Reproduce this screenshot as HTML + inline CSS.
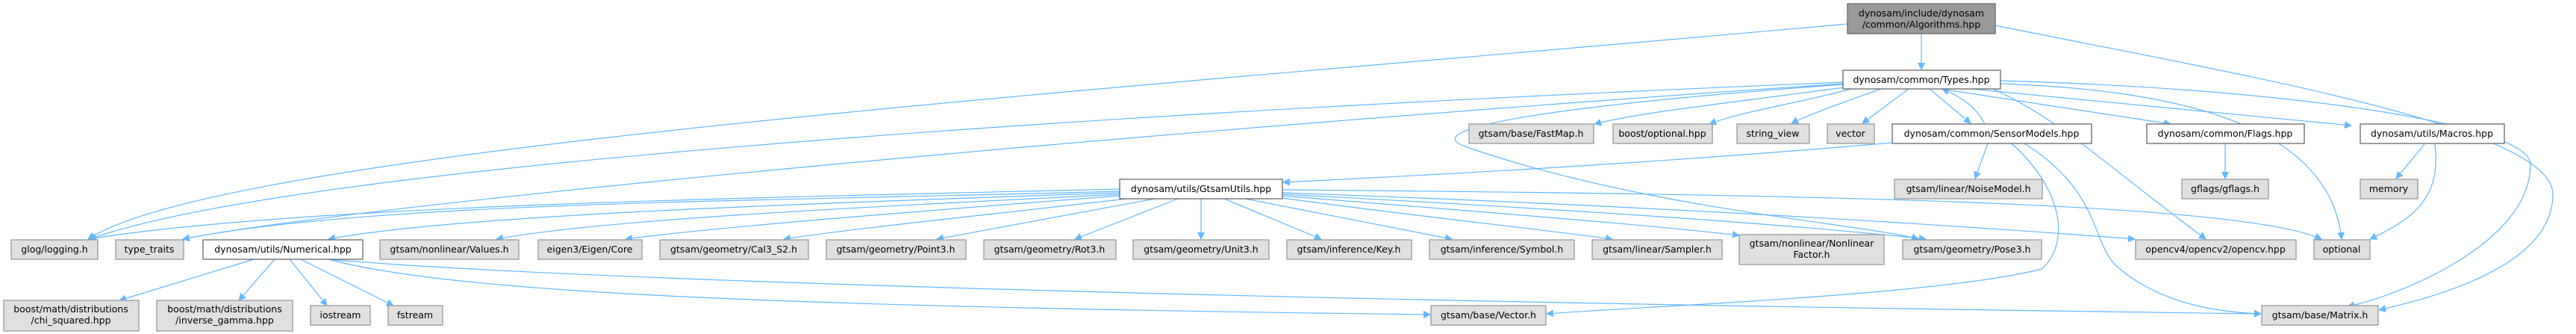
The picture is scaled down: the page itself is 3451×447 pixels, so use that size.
<!DOCTYPE html>
<html><head><meta charset="utf-8"><style>
html,body{margin:0;padding:0;background:#fff;}
svg{display:block}
text{font-family:"DejaVu Sans","Liberation Sans",sans-serif;font-size:12.5px;fill:#000;text-anchor:middle;}
.g{fill:#e0e0e0;stroke:#999;stroke-width:1.3}
.w{fill:#fff;stroke:#666;stroke-width:1.3}
.d{fill:#999;stroke:#666;stroke-width:1.3}
path.e{fill:none;stroke:#63b8ff;stroke-width:1.2;marker-end:url(#a)}
</style></head><body>
<svg width="3451" height="447" viewBox="0 0 3451 447" xmlns="http://www.w3.org/2000/svg">
<defs><marker id="a" viewBox="0 0 10 10" refX="9" refY="5" markerWidth="10" markerHeight="10" markerUnits="userSpaceOnUse" orient="auto"><path d="M0,0 L10,5 L0,10 z" fill="#63b8ff"/></marker></defs>
<g>
<path class="e" d="M2574,45 L2574,93"/>
<path class="e" d="M2475,32 C1500,120 300,200 118,320"/>
<path class="e" d="M2673,34 C3000,100 3420,170 3420,260 C3420,360 3250,400 3187,415"/>
<path class="e" d="M2469,110 C1500,150 400,220 120,320"/>
<path class="e" d="M2469,112 C1600,170 500,270 245,320"/>
<path class="e" d="M2470,117 C2300,140 2200,150 2136,166"/>
<path class="e" d="M2480,119 C2400,140 2330,150 2290,166"/>
<path class="e" d="M2520,119 C2460,140 2420,155 2400,165"/>
<path class="e" d="M2557,119 L2495,165"/>
<path class="e" d="M2585,119 L2640,165"/>
<path class="e" d="M2600,119 L2908,166"/>
<path class="e" d="M2640,119 L3150,168"/>
<path class="e" d="M2670,119 C2760,160 2820,220 2955,320"/>
<path class="e" d="M2680,112 C2900,120 3120,160 3137,320"/>
<path class="e" d="M2680,108 C3100,120 3390,170 3390,220 C3390,330 3200,400 3145,410"/>
<path class="e" d="M2469,113 C2100,140 1900,170 1960,195 C2200,280 2500,300 2570,320"/>
<path class="e" d="M2659,166 C2650,150 2640,135 2602,119"/>
<path class="e" d="M2535,191 C2200,220 1900,235 1719,244"/>
<path class="e" d="M2663,192 L2646,239"/>
<path class="e" d="M2695,192 C2770,260 2770,330 2735,360 C2600,395 2200,410 2072,420"/>
<path class="e" d="M2712,192 C2820,260 2800,330 2840,360 C2900,410 2980,418 3029,420"/>
<path class="e" d="M2981,192 L2981,239"/>
<path class="e" d="M3248,193 L3210,239"/>
<path class="e" d="M3262,193 C3270,260 3240,290 3175,320"/>
<path class="e" d="M1500,253 C1000,265 400,275 118,320"/>
<path class="e" d="M1500,256 C1000,270 500,270 245,320"/>
<path class="e" d="M1500,258 C1000,275 600,290 440,320"/>
<path class="e" d="M1500,260 C1100,280 800,295 665,320"/>
<path class="e" d="M1500,262 C1200,285 950,305 838,320"/>
<path class="e" d="M1510,266 C1300,290 1150,305 1050,320"/>
<path class="e" d="M1547,266 L1255,320"/>
<path class="e" d="M1578,266 L1440,320"/>
<path class="e" d="M1609,266 L1609,320"/>
<path class="e" d="M1640,266 L1770,320"/>
<path class="e" d="M1668,266 L1945,320"/>
<path class="e" d="M1718,265 C1900,290 2050,305 2160,320"/>
<path class="e" d="M1718,262 C2000,285 2200,300 2330,315"/>
<path class="e" d="M1718,260 C2100,280 2400,300 2580,320"/>
<path class="e" d="M1718,258 C2200,275 2600,300 2860,320"/>
<path class="e" d="M1718,254 C2400,260 3000,270 3110,320"/>
<path class="e" d="M340,347 L160,402"/>
<path class="e" d="M368,347 L320,402"/>
<path class="e" d="M388,347 L438,409"/>
<path class="e" d="M403,347 L527,409"/>
<path class="e" d="M440,347 C600,390 1000,410 1916,421"/>
<path class="e" d="M440,347 C700,370 1500,400 3029,420"/>
</g>
<rect class="d" x="2475" y="5" width="198" height="40"/><text x="2574" y="22">dynosam/include/dynosam</text><text x="2574" y="37">/common/Algorithms.hpp</text>
<rect class="w" x="2469" y="94" width="211" height="25"/><text x="2574" y="111">dynosam/common/Types.hpp</text>
<rect class="g" x="1968" y="166" width="167" height="26"/><text x="2051" y="183">gtsam/base/FastMap.h</text>
<rect class="g" x="2161" y="166" width="133" height="26"/><text x="2227" y="183">boost/optional.hpp</text>
<rect class="g" x="2327" y="166" width="97" height="26"/><text x="2375" y="183">string_view</text>
<rect class="g" x="2448" y="166" width="63" height="26"/><text x="2479" y="183">vector</text>
<rect class="w" x="2535" y="166" width="267" height="26"/><text x="2668" y="183">dynosam/common/SensorModels.hpp</text>
<rect class="w" x="2876" y="166" width="211" height="26"/><text x="2981" y="183">dynosam/common/Flags.hpp</text>
<rect class="w" x="3162" y="166" width="193" height="26"/><text x="3258" y="183">dynosam/utils/Macros.hpp</text>
<rect class="w" x="1500" y="240" width="218" height="26"/><text x="1609" y="257">dynosam/utils/GtsamUtils.hpp</text>
<rect class="g" x="2538" y="240" width="198" height="26"/><text x="2637" y="257">gtsam/linear/NoiseModel.h</text>
<rect class="g" x="2923" y="240" width="116" height="26"/><text x="2981" y="257">gflags/gflags.h</text>
<rect class="g" x="3162" y="240" width="77" height="26"/><text x="3200" y="257">memory</text>
<rect class="g" x="15" y="321" width="116" height="26"/><text x="73" y="338">glog/logging.h</text>
<rect class="g" x="155" y="321" width="91" height="26"/><text x="200" y="338">type_traits</text>
<rect class="w" x="272" y="321" width="214" height="26"/><text x="379" y="338">dynosam/utils/Numerical.hpp</text>
<rect class="g" x="509" y="321" width="186" height="26"/><text x="602" y="338">gtsam/nonlinear/Values.h</text>
<rect class="g" x="721" y="321" width="139" height="26"/><text x="790" y="338">eigen3/Eigen/Core</text>
<rect class="g" x="884" y="321" width="199" height="26"/><text x="983" y="338">gtsam/geometry/Cal3_S2.h</text>
<rect class="g" x="1107" y="321" width="187" height="26"/><text x="1200" y="338">gtsam/geometry/Point3.h</text>
<rect class="g" x="1318" y="321" width="177" height="26"/><text x="1406" y="338">gtsam/geometry/Rot3.h</text>
<rect class="g" x="1518" y="321" width="182" height="26"/><text x="1609" y="338">gtsam/geometry/Unit3.h</text>
<rect class="g" x="1724" y="321" width="167" height="26"/><text x="1807" y="338">gtsam/inference/Key.h</text>
<rect class="g" x="1915" y="321" width="194" height="26"/><text x="2012" y="338">gtsam/inference/Symbol.h</text>
<rect class="g" x="2133" y="321" width="174" height="26"/><text x="2220" y="338">gtsam/linear/Sampler.h</text>
<rect class="g" x="2330" y="314" width="194" height="40"/><text x="2427" y="330">gtsam/nonlinear/Nonlinear</text><text x="2427" y="345">Factor.h</text>
<rect class="g" x="2549" y="321" width="186" height="26"/><text x="2642" y="338">gtsam/geometry/Pose3.h</text>
<rect class="g" x="2861" y="321" width="215" height="26"/><text x="2968" y="338">opencv4/opencv2/opencv.hpp</text>
<rect class="g" x="3100" y="321" width="75" height="26"/><text x="3137" y="338">optional</text>
<rect class="g" x="5" y="402" width="181" height="41"/><text x="95" y="418">boost/math/distributions</text><text x="95" y="433">/chi_squared.hpp</text>
<rect class="g" x="210" y="402" width="182" height="41"/><text x="301" y="418">boost/math/distributions</text><text x="301" y="433">/inverse_gamma.hpp</text>
<rect class="g" x="416" y="409" width="80" height="26"/><text x="456" y="426">iostream</text>
<rect class="g" x="520" y="409" width="73" height="26"/><text x="556" y="426">fstream</text>
<rect class="g" x="1917" y="409" width="154" height="26"/><text x="1994" y="426">gtsam/base/Vector.h</text>
<rect class="g" x="3030" y="409" width="156" height="26"/><text x="3108" y="426">gtsam/base/Matrix.h</text>
</svg>
</body></html>
